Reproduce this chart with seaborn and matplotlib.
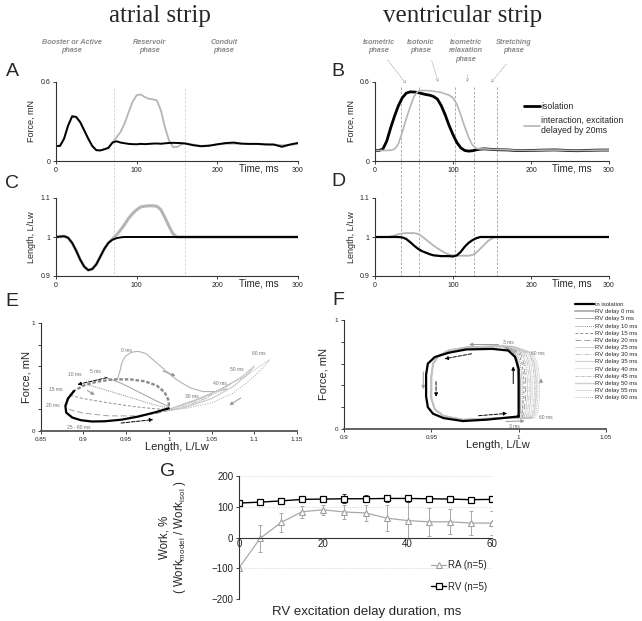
import matplotlib
matplotlib.use("Agg")
import matplotlib.pyplot as plt
from matplotlib.lines import Line2D
import seaborn as sns

# ---------------- time traces, panels A-D ----------------
t_ms = [0, 5, 10, 15, 20, 25, 30, 35, 40, 45, 50, 55, 60, 65, 70, 75, 80, 85, 90, 95,
        100, 105, 110, 115, 120, 125, 130, 135, 140, 145, 150, 155, 160,
        170, 180, 190, 200, 210, 220, 230, 240, 250, 260, 270, 280, 290, 300]

force_iso_a = [0.114, 0.115, 0.170, 0.270, 0.340, 0.335, 0.296, 0.233, 0.170, 0.114, 0.082, 0.080,
               0.089, 0.099, 0.140, 0.150, 0.140, 0.135, 0.130, 0.128, 0.127, 0.130, 0.128, 0.130,
               0.132, 0.133, 0.131, 0.134, 0.137, 0.138, 0.137, 0.136, 0.133,
               0.120, 0.112, 0.116, 0.127, 0.136, 0.140, 0.132, 0.130, 0.130, 0.126, 0.125, 0.108, 0.125, 0.137]
force_int_a = [0.114, 0.115, 0.165, 0.265, 0.335, 0.330, 0.290, 0.228, 0.165, 0.110, 0.083, 0.082,
               0.090, 0.105, 0.140, 0.180, 0.220, 0.285, 0.370, 0.450, 0.500, 0.505, 0.486, 0.473,
               0.468, 0.460, 0.385, 0.258, 0.157, 0.106, 0.106, 0.125, 0.135,
               0.125, 0.115, 0.120, 0.125, 0.130, 0.132, 0.130, 0.128, 0.128, 0.125, 0.125, 0.120, 0.122, 0.130]

length_iso_c = [1.0, 1.001, 1.002, 0.998, 0.985, 0.965, 0.942, 0.924, 0.915, 0.918, 0.930, 0.950,
                0.970, 0.985, 0.993, 0.997, 0.999, 1.0, 1.0, 1.0, 1.0, 1.0, 1.0, 1.0,
                1.0, 1.0, 1.0, 1.0, 1.0, 1.0, 1.0, 1.0, 1.0,
                1.0, 1.0, 1.0, 1.0, 1.0, 1.0, 1.0, 1.0, 1.0, 1.0, 1.0, 1.0, 1.0, 1.0]
length_int_c = [1.0, 1.001, 1.002, 0.998, 0.985, 0.965, 0.942, 0.924, 0.915, 0.918, 0.930, 0.950,
                0.970, 0.985, 0.995, 1.005, 1.018, 1.032, 1.048, 1.060, 1.070, 1.077, 1.079, 1.080,
                1.080, 1.079, 1.070, 1.050, 1.028, 1.008, 1.0, 1.0, 1.0,
                1.0, 1.0, 1.0, 1.0, 1.0, 1.0, 1.0, 1.0, 1.0, 1.0, 1.0, 1.0, 1.0, 1.0]

force_iso_b = [0.080, 0.080, 0.090, 0.150, 0.250, 0.340, 0.420, 0.480, 0.515, 0.525, 0.524, 0.520,
               0.512, 0.505, 0.500, 0.490, 0.470, 0.420, 0.350, 0.270, 0.200, 0.140, 0.100, 0.080,
               0.075, 0.078, 0.085, 0.090, 0.092, 0.090, 0.088, 0.086, 0.085,
               0.084, 0.080, 0.079, 0.080, 0.082, 0.083, 0.084, 0.082, 0.079, 0.078, 0.080, 0.082, 0.083, 0.083]
force_int_b = [0.080, 0.080, 0.080, 0.080, 0.082, 0.090, 0.130, 0.220, 0.320, 0.410, 0.490, 0.530,
               0.535, 0.535, 0.533, 0.530, 0.525, 0.520, 0.510, 0.500, 0.480, 0.430, 0.350, 0.260,
               0.180, 0.120, 0.095, 0.092, 0.092, 0.090, 0.088, 0.087, 0.086,
               0.085, 0.081, 0.080, 0.080, 0.082, 0.083, 0.083, 0.082, 0.080, 0.079, 0.080, 0.082, 0.083, 0.083]

length_iso_d = [1.0, 1.0, 1.0, 1.0, 1.0, 1.0, 1.0, 0.999, 0.995, 0.987, 0.978, 0.970,
                0.964, 0.960, 0.956, 0.953, 0.952, 0.951, 0.951, 0.951, 0.950, 0.953, 0.962, 0.975,
                0.985, 0.992, 0.997, 1.0, 1.0, 1.0, 1.0, 1.0, 1.0,
                1.0, 1.0, 1.0, 1.0, 1.0, 1.0, 1.0, 1.0, 1.0, 1.0, 1.0, 1.0, 1.0, 1.0]
length_int_d = [1.0, 1.0, 1.0, 1.0, 1.001, 1.004, 1.007, 1.009, 1.010, 1.010, 1.010, 1.008,
                1.002, 0.994, 0.986, 0.978, 0.971, 0.965, 0.959, 0.955, 0.953, 0.952, 0.952, 0.952,
                0.952, 0.954, 0.960, 0.970, 0.980, 0.990, 0.996, 1.0, 1.0,
                1.0, 1.0, 1.0, 1.0, 1.0, 1.0, 1.0, 1.0, 1.0, 1.0, 1.0, 1.0, 1.0, 1.0]

atrial_phase_lines = [72, 160]
ventr_phase_lines = [33, 57, 103, 127, 157]

# ---------------- work loops, panel E (atrial) ----------------
e_iso_L = [1.000, 0.985, 0.965, 0.945, 0.925, 0.910, 0.897, 0.887, 0.880, 0.879, 0.882, 0.889,
           0.900, 0.915, 0.935, 0.955, 0.972, 0.986, 0.995, 1.000, 1.000]
e_iso_F = [0.210, 0.175, 0.135, 0.105, 0.090, 0.088, 0.100, 0.125, 0.170, 0.230, 0.300, 0.370,
           0.420, 0.455, 0.478, 0.478, 0.460, 0.420, 0.360, 0.280, 0.210]
e_d0_L = [0.940, 0.943, 0.945, 0.949, 0.956, 0.964, 0.973, 0.983, 0.996, 1.010, 1.025, 1.040, 1.055, 1.068]
e_d0_F = [0.480, 0.560, 0.630, 0.690, 0.728, 0.738, 0.718, 0.650, 0.560, 0.470, 0.400, 0.365, 0.365, 0.390]
e_d5_L = [0.925, 0.945, 0.965, 0.985, 1.000]
e_d5_F = [0.500, 0.440, 0.360, 0.280, 0.225]
e_d10_L = [0.905, 0.930, 0.955, 0.980, 1.000]
e_d10_F = [0.430, 0.370, 0.310, 0.250, 0.210]
e_d15_L = [0.885, 0.900, 0.930, 0.960, 0.985, 1.000]
e_d15_F = [0.330, 0.300, 0.260, 0.225, 0.205, 0.200]
e_d20_L = [0.883, 0.900, 0.930, 0.960, 0.985, 1.000]
e_d20_F = [0.200, 0.165, 0.140, 0.140, 0.160, 0.190]
e_d30_L = [1.000, 1.020, 1.040, 1.050, 1.045, 1.025, 1.005]
e_d30_F = [0.200, 0.250, 0.310, 0.340, 0.310, 0.245, 0.195]
e_d40_L = [1.000, 1.020, 1.045, 1.065, 1.072, 1.060, 1.040, 1.020, 1.000]
e_d40_F = [0.200, 0.260, 0.330, 0.400, 0.430, 0.370, 0.290, 0.230, 0.190]
e_d50_L = [1.000, 1.030, 1.060, 1.085, 1.100, 1.093, 1.075, 1.050, 1.020, 1.000]
e_d50_F = [0.200, 0.280, 0.380, 0.500, 0.600, 0.530, 0.410, 0.300, 0.220, 0.190]
e_d60_L = [1.000, 1.030, 1.060, 1.090, 1.110, 1.118, 1.112, 1.095, 1.075, 1.050, 1.020, 1.000]
e_d60_F = [0.200, 0.280, 0.390, 0.510, 0.620, 0.660, 0.600, 0.470, 0.350, 0.260, 0.210, 0.190]

e_labels = ["0 ms", "5 ms", "10 ms", "15 ms", "20 ms", "25 - 60 ms", "30 ms", "40 ms", "50 ms", "60 ms"]
e_label_L = [0.950, 0.914, 0.890, 0.868, 0.864, 0.895, 1.027, 1.060, 1.080, 1.105]
e_label_F = [0.745, 0.550, 0.520, 0.380, 0.235, 0.035, 0.318, 0.440, 0.570, 0.720]

# ---------------- work loops, panel F (ventricular) ----------------
f_iso_L = [1.000, 1.000, 1.000, 0.998, 0.994, 0.985, 0.970, 0.960, 0.952, 0.948, 0.947, 0.947,
           0.948, 0.951, 0.957, 0.968, 0.982, 1.000]
f_iso_F = [0.115, 0.300, 0.550, 0.660, 0.720, 0.735, 0.730, 0.700, 0.660, 0.600, 0.500, 0.300,
           0.200, 0.140, 0.100, 0.073, 0.086, 0.115]
f_gray_L = [0.985, 0.970, 0.960, 0.954, 0.951, 0.950, 0.950, 0.952, 0.957, 0.968, 0.982, 0.995]
f_gray_F = [0.758, 0.748, 0.720, 0.670, 0.600, 0.480, 0.280, 0.180, 0.120, 0.085, 0.095, 0.105]
f_right_F = [0.100, 0.150, 0.300, 0.450, 0.600, 0.700, 0.758]
f_right_d0 = [0.999, 1.000, 1.000, 1.000, 0.999, 0.997, 0.991]
f_right_d5 = [1.000, 1.001, 1.001, 1.001, 1.000, 0.998, 0.992]
f_right_d10 = [1.001, 1.002, 1.002, 1.002, 1.001, 0.999, 0.992]
f_right_d15 = [1.002, 1.002, 1.003, 1.003, 1.002, 1.000, 0.993]
f_right_d20 = [1.002, 1.003, 1.004, 1.004, 1.003, 1.001, 0.993]
f_right_d25 = [1.003, 1.004, 1.005, 1.005, 1.004, 1.002, 0.994]
f_right_d30 = [1.004, 1.005, 1.006, 1.006, 1.005, 1.003, 0.994]
f_right_d35 = [1.005, 1.006, 1.007, 1.007, 1.006, 1.004, 0.995]
f_right_d40 = [1.006, 1.007, 1.008, 1.008, 1.007, 1.005, 0.995]
f_right_d45 = [1.006, 1.008, 1.009, 1.009, 1.008, 1.006, 0.996]
f_right_d50 = [1.007, 1.009, 1.010, 1.010, 1.009, 1.006, 0.996]
f_right_d55 = [1.008, 1.010, 1.011, 1.011, 1.010, 1.007, 0.997]
f_right_d60 = [1.009, 1.011, 1.012, 1.012, 1.011, 1.008, 0.997]
f_rights = [f_right_d0, f_right_d5, f_right_d10, f_right_d15, f_right_d20, f_right_d25, f_right_d30,
            f_right_d35, f_right_d40, f_right_d45, f_right_d50, f_right_d55, f_right_d60]
delays_f = [0, 5, 10, 15, 20, 25, 30, 35, 40, 45, 50, 55, 60]

f_labels = ["3 ms", "60 ms", "60 ms", "3 ms"]
f_label_L = [0.994, 1.011, 1.0155, 0.9975]
f_label_F = [0.790, 0.695, 0.110, 0.020]

# ---------------- work summary, panel G ----------------
delay_g = [0, 5, 10, 15, 20, 25, 30, 35, 40, 45, 50, 55, 60]
rv_work = [112, 115, 119, 124, 125, 126, 126, 127, 127, 126, 125, 123, 124]
rv_err = [8, 8, 9, 10, 11, 15, 12, 12, 11, 10, 9, 8, 8]
ra_work = [-99, -3, 49, 84, 90, 83, 80, 63, 55, 51, 51, 47, 47]
ra_err = [4, 45, 30, 19, 16, 24, 26, 43, 60, 45, 41, 38, 38]

# styles of the gray delay curves (0..60 ms)
gray_cols = ["#b3b3b3", "#a0a0a0", "#8f8f8f", "#909090", "#a0a0a0", "#c8c8c8", "#bdbdbd",
             "#d0d0d0", "#c0c0c0", "#b8b8b8", "#d0d0d0", "#c8c8c8", "#a8a8a8"]
gray_lws = [1.4, 0.6, 0.7, 0.7, 0.7, 0.6, 0.6, 0.8, 0.6, 0.6, 1.0, 0.6, 0.6]
gray_ls = ["-", "-", (0, (1, 1)), (0, (3, 2)), (0, (6, 3)), "-", "-.", "-", (0, (1, 1)),
           (0, (4, 1, 1, 1)), "-", (0, (2, 1)), (0, (1, 1.5))]

sns.set_theme(style="white")
plt.rcParams["font.family"] = ["Liberation Sans", "DejaVu Sans"]
plt.rcParams["mathtext.fontset"] = "custom"
plt.rcParams["mathtext.rm"] = "Liberation Sans"

W, H = 642, 621
fig = plt.figure(figsize=(W / 100, H / 100), dpi=100)


def add_ax(l, t, r, b):
    ax = fig.add_axes([l / W, 1 - b / H, (r - l) / W, (b - t) / H])
    ax.patch.set_alpha(0)
    return ax


def fx(px):
    return px / W


def fy(py):
    return 1 - py / H


def style(ax, fs=5):
    sns.despine(ax=ax)
    for s in ("left", "bottom"):
        ax.spines[s].set_linewidth(0.8)
        ax.spines[s].set_color("#333333")
    ax.tick_params(labelsize=fs, length=2, width=0.6, pad=2, colors="#222222",
                   left=True, bottom=True)


GRAY = "#b5b5b5"

# ---- titles and panel letters ----
fig.text(fx(160), fy(16), "atrial strip", ha="center", va="center", fontsize=18, family="Liberation Serif")
fig.text(fx(463), fy(16), "ventricular strip", ha="center", va="center", fontsize=18, family="Liberation Serif")
for lab, px, py in [("A", 12, 72), ("B", 338, 72), ("C", 12, 183), ("D", 338, 182),
                    ("E", 12, 302), ("F", 338, 301), ("G", 168, 472)]:
    fig.text(fx(px), fy(py), lab, ha="center", va="center", fontsize=14)

# ---- phase annotations ----
ptxt = dict(ha="center", va="top", fontsize=5.2, color="#8a8a8a", style="italic",
            weight="bold", multialignment="center", linespacing=1.3)
fig.text(fx(72), fy(39), "Booster or Active\nphase", **ptxt)
fig.text(fx(150), fy(39), "Reservoir\nphase", **ptxt)
fig.text(fx(224), fy(39), "Conduit\nphase", **ptxt)
fig.text(fx(379), fy(39), "Isometric\nphase", **ptxt)
fig.text(fx(421), fy(39), "Isotonic\nphase", **ptxt)
fig.text(fx(466), fy(39), "Isometric\nrelaxation\nphase", **ptxt)
fig.text(fx(514), fy(39), "Stretching\nphase", **ptxt)
for (x0, y0), (x1, y1) in [((386, 58), (408, 86)), ((431, 58), (439, 85)),
                           ((468, 72), (467, 85)), ((508, 62), (489, 85))]:
    fig.add_artist(plt.Annotation("", xy=(fx(x1), fy(y1)), xytext=(fx(x0), fy(y0)),
                                  xycoords="figure fraction", textcoords="figure fraction",
                                  arrowprops=dict(arrowstyle="->", color="#999999", lw=0.5,
                                                  linestyle=":", mutation_scale=5)))

# phase separator lines running through A/C and B/D
for tt in atrial_phase_lines:
    px = 56 + tt * 242 / 300
    fig.add_artist(Line2D([fx(px), fx(px)], [fy(88), fy(276)], transform=fig.transFigure,
                          color="#cfcfcf", lw=0.6, ls=(0, (3, 2)), zorder=0))
for tt in ventr_phase_lines:
    px = 375 + tt * 234 / 300
    fig.add_artist(Line2D([fx(px), fx(px)], [fy(87), fy(276)], transform=fig.transFigure,
                          color="#a0a0a0", lw=0.6, ls=(0, (3, 2)), zorder=0))

# ---- panels A-D ----
axA = add_ax(56, 82, 298, 161)
axB = add_ax(375, 82, 609, 161)
axC = add_ax(56, 198, 298, 276)
axD = add_ax(375, 198, 609, 276)

sns.lineplot(x=t_ms, y=force_int_a, ax=axA, color=GRAY, lw=1.3, legend=False)
sns.lineplot(x=t_ms, y=force_iso_a, ax=axA, color="black", lw=1.4, legend=False)
sns.lineplot(x=t_ms, y=force_iso_b, ax=axB, color="black", lw=2.0, label="isolation")
sns.lineplot(x=t_ms, y=force_int_b, ax=axB, color=GRAY, lw=1.2,
             label="interaction, excitation\ndelayed by 20ms")
sns.lineplot(x=t_ms, y=length_int_c, ax=axC, color=GRAY, lw=2.2, legend=False)
sns.lineplot(x=t_ms, y=length_iso_c, ax=axC, color="black", lw=1.4, legend=False)
sns.lineplot(x=t_ms, y=length_int_d, ax=axD, color=GRAY, lw=1.3, legend=False)
sns.lineplot(x=t_ms, y=length_iso_d, ax=axD, color="black", lw=1.6, legend=False)

for ax, ylab, lim, ticks, tlabs in [
        (axA, "Force, mN", (0, 0.6), [0, 0.6], ["0", "0.6"]),
        (axB, "Force, mN", (0, 0.6), [0, 0.6], ["0", "0.6"]),
        (axC, "Length, L/Lw", (0.9, 1.1), [0.9, 1.0, 1.1], ["0.9", "1", "1.1"]),
        (axD, "Length, L/Lw", (0.9, 1.1), [0.9, 1.0, 1.1], ["0.9", "1", "1.1"])]:
    style(ax)
    ax.set_xlim(0, 300)
    ax.set_ylim(*lim)
    ax.set_xticks([0, 100, 200, 300])
    ax.set_xticklabels(["0", "100", "200", "300"])
    ax.set_yticks(ticks)
    ax.set_yticklabels(tlabs)
    ax.set_xlabel("")
    ax.set_ylabel("")
    ax.text(-0.1, 0.5, ylab, transform=ax.transAxes, rotation=90, ha="center", va="center", fontsize=6.5)
    ax.text(0.84, -0.03, "Time, ms", transform=ax.transAxes, ha="center", va="top", fontsize=7)

axB.legend(loc="upper left", bbox_to_anchor=(0.62, 0.8), frameon=False, fontsize=6.3,
           handlelength=1.8, handletextpad=0.1, labelspacing=0.5, borderpad=0)

# ---- panel E ----
axE = add_ax(40.6, 323, 297, 431)
e_gray_curves = [(e_d0_L, e_d0_F, 0), (e_d5_L, e_d5_F, 1), (e_d10_L, e_d10_F, 2),
                 (e_d15_L, e_d15_F, 3), (e_d20_L, e_d20_F, 4), (e_d30_L, e_d30_F, 6),
                 (e_d40_L, e_d40_F, 8), (e_d50_L, e_d50_F, 10), (e_d60_L, e_d60_F, 12)]
for Ls, Fs, k in e_gray_curves:
    sns.lineplot(x=Ls, y=Fs, ax=axE, sort=False, estimator=None, color=gray_cols[k],
                 lw=max(gray_lws[k], 0.7) if k else 0.8, linestyle=gray_ls[k], legend=False)
# overlapping 25-60 ms traces along the upper part of the loop
sns.lineplot(x=e_iso_L[9:], y=e_iso_F[9:], ax=axE, sort=False, estimator=None,
             color="#8a8a8a", lw=1.7, linestyle=(0, (1.5, 0.8)), legend=False)
sns.lineplot(x=e_iso_L[:12], y=e_iso_F[:12], ax=axE, sort=False, estimator=None,
             color="black", lw=1.6, legend=False)
for lab, L, F in zip(e_labels, e_label_L, e_label_F):
    axE.text(L, F, lab, fontsize=3.6, color="#707070", ha="center", va="center")
for (a, b), col, ls in [(((0.931, 0.50), (0.890, 0.425)), "black", "--"),
                        (((0.941, 0.071), (0.985, 0.108)), "black", "--"),
                        (((0.990, 0.565), (1.011, 0.500)), "#999999", "-"),
                        (((0.902, 0.390), (0.916, 0.320)), "#999999", "-"),
                        (((1.087, 0.320), (1.068, 0.225)), "#999999", "-")]:
    axE.annotate("", xy=b, xytext=a, arrowprops=dict(arrowstyle="-|>", color=col, lw=0.7,
                                                    linestyle=ls, mutation_scale=5))
style(axE, fs=4.5)
axE.spines["bottom"].set_linewidth(1.3)
axE.spines["bottom"].set_color("#555555")
axE.set_xlim(0.85, 1.15)
axE.set_ylim(0, 1)
axE.set_xticks([0.85, 0.9, 0.95, 1.0, 1.05, 1.1, 1.15])
axE.set_xticklabels(["0.85", "0.9", "0.95", "1", "1.05", "1.1", "1.15"])
axE.set_yticks([0, 0.2, 0.4, 0.6, 0.8, 1.0])
axE.set_yticklabels(["0", "", "", "", "", "1"])
axE.set_xlabel("")
axE.set_ylabel("")
axE.text(-0.055, 0.5, "Force, mN", transform=axE.transAxes, rotation=90, ha="center", va="center", fontsize=8)
fig.text(fx(177), fy(447), "Length, L/Lw", ha="center", va="center", fontsize=8)

# ---- panel F ----
axF = add_ax(344, 320, 606, 429)
for k, (d, right) in enumerate(zip(delays_f, f_rights)):
    loop_L = list(right) + f_gray_L + [right[0]]
    loop_F = list(f_right_F) + f_gray_F + [f_right_F[0]]
    sns.lineplot(x=loop_L, y=loop_F, ax=axF, sort=False, estimator=None, color=gray_cols[k],
                 lw=gray_lws[k], linestyle=gray_ls[k], label=f"RV delay {d} ms")
sns.lineplot(x=f_iso_L, y=f_iso_F, ax=axF, sort=False, estimator=None, color="black",
             lw=1.6, label="in isolation")
for lab, L, F in zip(f_labels, f_label_L, f_label_F):
    axF.text(L, F, lab, fontsize=3.6, color="#707070", ha="center", va="center")
for (a, b), col, ls in [(((0.9527, 0.46), (0.9527, 0.27)), "black", "--"),
                        (((0.9746, 0.695), (0.9560, 0.640)), "black", "--"),
                        (((0.9969, 0.39), (0.9969, 0.60)), "black", "-"),
                        (((0.9755, 0.12), (0.9950, 0.145)), "black", "--"),
                        (((0.9454, 0.55), (0.9454, 0.34)), "#999999", "-"),
                        (((1.0128, 0.40), (1.0128, 0.49)), "#999999", "-"),
                        (((0.9910, 0.068), (1.0050, 0.075)), "#999999", "-"),
                        (((0.9900, 0.775), (0.9700, 0.775)), "#999999", "-")]:
    axF.annotate("", xy=b, xytext=a, arrowprops=dict(arrowstyle="-|>", color=col, lw=0.7,
                                                    linestyle=ls, mutation_scale=5))
style(axF, fs=4.5)
axF.spines["bottom"].set_linewidth(1.3)
axF.spines["bottom"].set_color("#555555")
axF.set_xlim(0.9, 1.05)
axF.set_ylim(0, 1)
axF.set_xticks([0.9, 0.95, 1.0, 1.05])
axF.set_xticklabels(["0.9", "0.95", "1", "1.05"])
axF.set_yticks([0, 0.2, 0.4, 0.6, 0.8, 1.0])
axF.set_yticklabels(["0", "", "", "", "", "1"])
axF.set_xlabel("")
axF.set_ylabel("")
axF.text(-0.08, 0.5, "Force, mN", transform=axF.transAxes, rotation=90, ha="center", va="center", fontsize=8)
fig.text(fx(498), fy(445), "Length, L/Lw", ha="center", va="center", fontsize=8)
handles, labels = axF.get_legend_handles_labels()
handles = handles[-1:] + handles[:-1]
labels = labels[-1:] + labels[:-1]
axF.legend(handles, labels, loc="upper left", bbox_to_anchor=(fx(572), fy(299)),
           bbox_transform=fig.transFigure, frameon=False, fontsize=4.3, handlelength=3.2,
           handletextpad=0.1, labelspacing=0.33, borderpad=0)

# ---- panel G ----
axG = add_ax(239, 476, 492, 599)
for yy in (200, 100, -100):
    axG.axhline(yy, color="#c8c8c8", lw=0.6, ls=":", zorder=0)
axG.errorbar(delay_g, ra_work, yerr=ra_err, fmt="none", ecolor="#a8a8a8", elinewidth=0.7,
             capsize=1.5, capthick=0.7)
axG.errorbar(delay_g, rv_work, yerr=rv_err, fmt="none", ecolor="#333333", elinewidth=0.7,
             capsize=1.5, capthick=0.7)
sns.lineplot(x=delay_g, y=ra_work, ax=axG, color="#a8a8a8", lw=0.9, marker="^", markersize=5,
             markerfacecolor="white", markeredgecolor="#a0a0a0", markeredgewidth=0.8, label="RA (n=5)")
sns.lineplot(x=delay_g, y=rv_work, ax=axG, color="black", lw=1.0, marker="s", markersize=5,
             markerfacecolor="white", markeredgecolor="black", markeredgewidth=0.9, label="RV (n=5)")
style(axG, fs=7)
axG.spines["bottom"].set_position(("data", 0))
axG.set_xlim(0, 60)
axG.set_ylim(-200, 200)
axG.set_xticks([0, 20, 40, 60])
axG.set_yticks([-200, -100, 0, 100, 200])
axG.tick_params(axis="x", length=0, pad=1)
axG.set_xlabel("")
axG.set_ylabel("Work, %\n( Work$_{\\rm model}$ / Work$_{\\rm isol}$ )", fontsize=8.3, linespacing=1.15)
axG.yaxis.set_label_coords(-0.2, 0.5)
axG.legend(loc="lower right", bbox_to_anchor=(1.0, 0.02), frameon=False, fontsize=7,
           handlelength=1.5, handletextpad=0.2, labelspacing=1.2, borderpad=0)
fig.text(fx(367), fy(612), "RV excitation delay duration, ms", ha="center", va="center", fontsize=9.5)

fig.savefig("out.png", dpi=100)
